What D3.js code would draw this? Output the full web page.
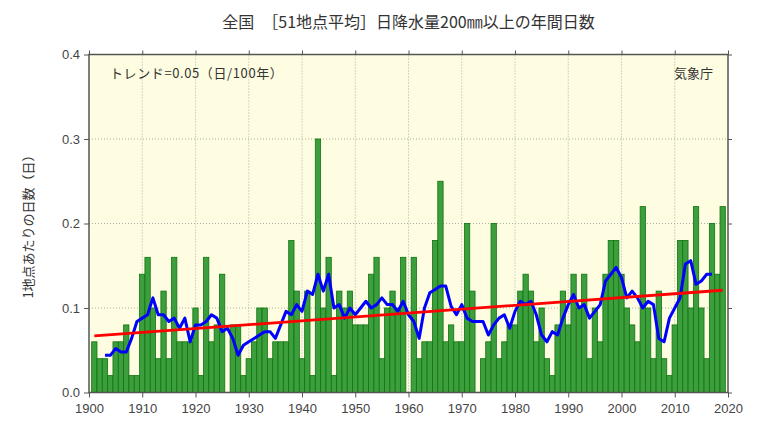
<!DOCTYPE html>
<meta charset="utf-8">
<style>
body { margin: 0; background: #fff; }
text { font-family: "Noto Sans CJK JP", "Liberation Sans", sans-serif; fill: #333; }
.grid line { stroke: #9a9a9a; stroke-width: 0.8px; stroke-dasharray: 1,2; }
.axis path { display: none; }
.axis line { stroke: #555; }
.axis text { font-family: "Liberation Sans", Arial, sans-serif; font-size: 13px; fill: #444; }
.bar { fill: #3c9e3c; stroke: #0f740f; stroke-width: 0.8px; }
.frame { fill: none; stroke: #555; stroke-width: 1.5px; }
</style>
<svg width="771" height="427"></svg>
<script src="https://d3js.org/d3.v7.min.js"></script>
<script>

// years 1901-2019
const years = d3.range(1901, 2020);

// days per station (annual days with daily precipitation >= 200mm)
const days = [
  0.06, 0.04, 0.04, 0.02, 0.06, 0.06, 0.08, 0.02, 0.02, 0.14,
  0.16, 0.10, 0.04, 0.12, 0.04, 0.16, 0.06, 0.06, 0.06, 0.10,
  0.02, 0.16, 0.06, 0.08, 0.14, 0.00, 0.08, 0.08, 0.02, 0.04,
  0.06, 0.10, 0.10, 0.04, 0.06, 0.06, 0.06, 0.18, 0.12, 0.04,
  0.12, 0.02, 0.30, 0.10, 0.16, 0.02, 0.12, 0.10, 0.12, 0.08,
  0.08, 0.08, 0.14, 0.16, 0.04, 0.10, 0.12, 0.10, 0.16, 0.00,
  0.16, 0.04, 0.06, 0.06, 0.18, 0.25, 0.06, 0.08, 0.06, 0.06,
  0.20, 0.12, 0.00, 0.04, 0.06, 0.20, 0.04, 0.06, 0.08, 0.08,
  0.12, 0.14, 0.12, 0.06, 0.10, 0.04, 0.02, 0.08, 0.12, 0.08,
  0.14, 0.10, 0.14, 0.04, 0.10, 0.06, 0.14, 0.18, 0.18, 0.14,
  0.10, 0.08, 0.06, 0.22, 0.10, 0.04, 0.12, 0.04, 0.02, 0.08,
  0.18, 0.18, 0.10, 0.22, 0.10, 0.04, 0.20, 0.14, 0.22
];

// long-term trend line (red), end points
const trendYears = [1901, 2019];
const trendValues = [0.067, 0.121];

const xTicks = d3.range(1900, 2021, 10);
const yTicks = [0, 0.1, 0.2, 0.3, 0.4];

const title = '全国　［51地点平均］日降水量200㎜以上の年間日数';
const yLabel = '1地点あたりの日数（日）';
const trendLabel = 'トレンド=0.05（日/100年）';
const source = '気象庁';

const margin = { left: 89, right: 43, top: 54.5, bottom: 34.5 };
const width = 771;
const height = 427;

const svg = d3.select('svg');

const x = d3.scaleLinear().domain([1900, 2020]).range([margin.left, width - margin.right]);
const y = d3.scaleLinear().domain([0, 0.4]).range([height - margin.bottom, margin.top]);
const bw = x(1) - x(0);

// plot background
svg.append('rect')
  .attr('x', x(1900)).attr('y', y(0.4))
  .attr('width', x(2020) - x(1900)).attr('height', y(0) - y(0.4))
  .attr('fill', '#fefde2');

// grid
const grid = svg.append('g').attr('class', 'grid');
grid.selectAll('.gy').data(yTicks.slice(1, -1)).enter().append('line')
  .attr('x1', x(1900)).attr('x2', x(2020))
  .attr('y1', d => y(d)).attr('y2', d => y(d));
grid.selectAll('.gx').data(xTicks.slice(1, -1)).enter().append('line')
  .attr('x1', d => x(d)).attr('x2', d => x(d))
  .attr('y1', y(0)).attr('y2', y(0.4));

// bars
svg.append('g').selectAll('rect')
  .data(years.map((yr, i) => ({ yr, v: days[i] })))
  .enter().append('rect')
    .attr('class', 'bar')
    .attr('x', d => x(d.yr) - bw / 2)
    .attr('width', bw)
    .attr('y', d => y(d.v))
    .attr('height', d => y(0) - y(d.v));

// 5-year running mean (blue), taken from the bars
const runMean = [];
for (let i = 2; i < days.length - 2; i++) {
  runMean.push({ yr: years[i], v: d3.mean(days.slice(i - 2, i + 3)) });
}
svg.append('path')
  .datum(runMean)
  .attr('fill', 'none')
  .attr('stroke', '#0000ff')
  .attr('stroke-width', 3)
  .attr('stroke-linejoin', 'round')
  .attr('d', d3.line().x(d => x(d.yr)).y(d => y(d.v)));

svg.append('path')
  .datum(trendYears.map((yr, i) => ({ yr, v: trendValues[i] })))
  .attr('fill', 'none')
  .attr('stroke', '#ff0000')
  .attr('stroke-width', 2.8)
  .attr('d', d3.line().x(d => x(d.yr)).y(d => y(d.v)));

// axes
svg.append('g').attr('class', 'axis')
  .attr('transform', `translate(0,${y(0)})`)
  .call(d3.axisBottom(x).tickValues(xTicks).tickFormat(d3.format('d')).tickSize(5).tickPadding(6));
svg.append('g').attr('class', 'axis')
  .attr('transform', `translate(0,${y(0.4)})`)
  .call(d3.axisTop(x).tickValues(xTicks).tickFormat('').tickSize(4));
svg.append('g').attr('class', 'axis')
  .attr('transform', `translate(${x(1900)},0)`)
  .call(d3.axisLeft(y).tickValues(yTicks).tickFormat(d3.format('.1f')).tickSize(5).tickPadding(4));
svg.append('g').attr('class', 'axis')
  .attr('transform', `translate(${x(2020)},0)`)
  .call(d3.axisRight(y).tickValues(yTicks).tickFormat('').tickSize(4));

svg.append('rect').attr('class', 'frame')
  .attr('x', x(1900)).attr('y', y(0.4))
  .attr('width', x(2020) - x(1900)).attr('height', y(0) - y(0.4));

// texts
svg.append('text')
  .attr('x', (x(1900) + x(2020)) / 2).attr('y', 28)
  .attr('text-anchor', 'middle')
  .style('font-size', '16px')
  .text(title);

svg.append('text')
  .attr('transform', `translate(33,${(y(0) + y(0.4)) / 2}) rotate(-90)`)
  .attr('text-anchor', 'middle')
  .style('font-size', '13px')
  .text(yLabel);

svg.append('text')
  .attr('x', 110).attr('y', 78)
  .style('font-size', '13px')
  .style('letter-spacing', '0.6px')
  .text(trendLabel);

svg.append('text')
  .attr('x', 713).attr('y', 78)
  .attr('text-anchor', 'end')
  .style('font-size', '13px')
  .text(source);

</script>
